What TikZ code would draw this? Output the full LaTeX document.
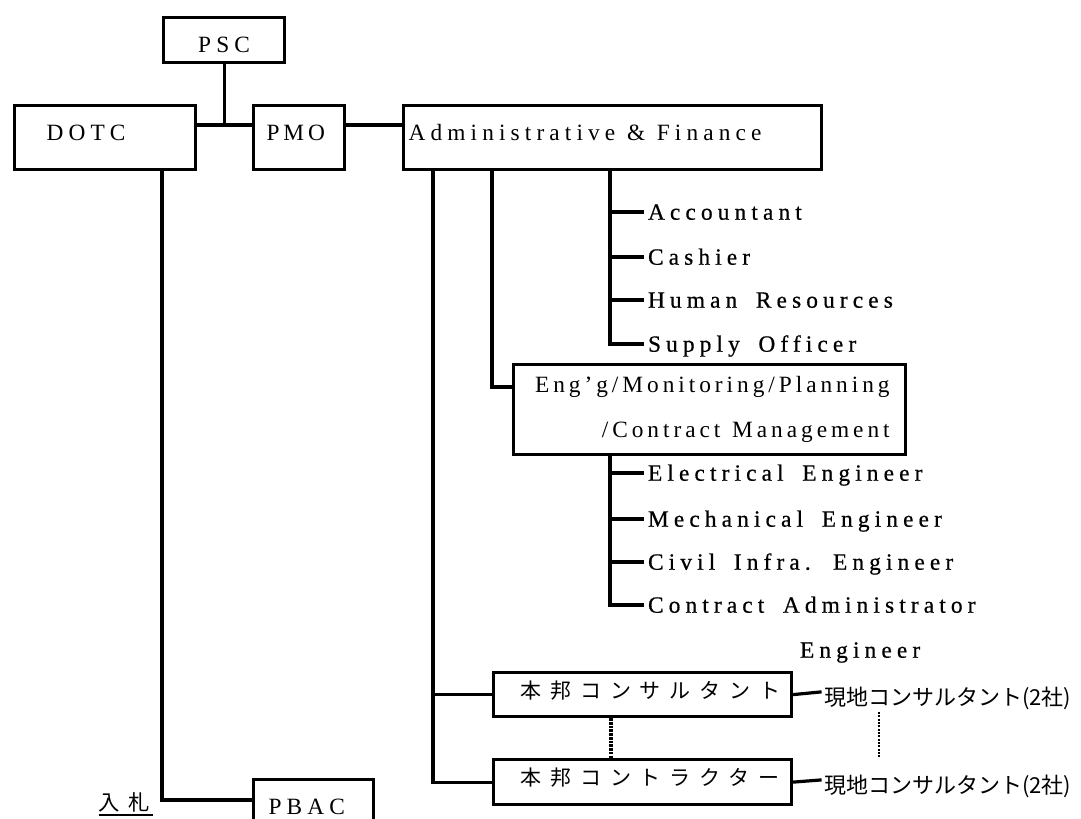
\documentclass[tikz,border=0pt]{standalone}
\usepackage{fontspec}
\setmainfont{Liberation Serif}
\newfontfamily\spc[LetterSpace=22, WordSpace=1.7]{Liberation Serif}
\newfontfamily\lblf[LetterSpace=22, WordSpace=1.7, FakeBold=0.6]{Liberation Serif}
\newfontfamily\engf[LetterSpace=17]{Liberation Serif}
\newfontfamily\jpspc[LetterSpace=42]{Noto Sans CJK JP}
\newfontfamily\jp{Noto Sans CJK JP}
\newcommand\bidul[1]{\setbox0\hbox{#1}\rlap{\rule[-4.2pt]{\dimexpr\wd0+2pt\relax}{1.6pt}}\box0}
\tikzset{
  conn/.style={draw=black, line width=2.4pt, line cap=rect},
  box/.style={draw=black, line width=2.4pt, anchor=north west, inner ysep=0pt, align=left,
    font=\spc\fontsize{17.5}{20}\selectfont, text height=12.25pt, text depth=8.05pt,
    execute at begin node={\spaceskip=0.5em\relax}},
  jbox/.style={box, font=\jpspc\fontsize{15.75}{18}\selectfont, text height=12.5pt, text depth=6.8pt},
  lbl/.style={anchor=west, font=\lblf\fontsize{17.5}{20}\selectfont, text height=15.75pt, text depth=4.2pt},
  jlbl/.style={anchor=west, inner xsep=2pt, font=\jp\fontsize{16.5}{20}\selectfont, text height=21.45pt, text depth=1.3pt},
  dots/.style={draw=black, line width=2.6pt, dash pattern=on 2pt off 0.8pt},
  thindots/.style={draw=black, line width=1.2pt, dash pattern=on 1.5pt off 1pt},
}

\begin{document}
\begin{tikzpicture}[x=0.75pt,y=-0.75pt,line width=2.4pt]
  \useasboundingbox (0,0) rectangle (1081,818);
  \clip (0,0) rectangle (1081,818);

  \coordinate (jn) at (222,125);
  \coordinate (bend) at (162,800);
  \coordinate (hqX) at (433,0);
  \coordinate (engX) at (492,0);
  \coordinate (finX) at (610,0);
  \coordinate (engIn) at (512,387);
  \coordinate (dotX) at (611,0);
  \coordinate (locA) at (879,712);
  \coordinate (locB) at (879,758);

  % top row
  \node[box, minimum width=90.75pt, minimum height=33.75pt, align=center,
    text height=19.25pt, text depth=1pt] (psc) at (162,16) {PSC};
  \node[box, text width=87.75pt, inner xsep=24pt, minimum height=48pt] (dotc) at (13,104) {DOTC};
  \node[box, text width=48.75pt, inner xsep=9.75pt, minimum height=48pt] (pmo) at (252,104) {P\,M\,O};
  \node[box, text width=306pt, inner xsep=3.75pt, minimum height=48pt] (admin) at (402,104) {Administrative \& Finance};
  \node[box, text width=67.5pt, inner xsep=11.25pt, minimum height=45pt,
    text height=11.5pt, text depth=4.2pt] (pbac) at (252,778) {PBAC};

  \draw[conn] (psc.south) -- (psc.south |- jn);
  \draw[conn] (dotc.east |- jn) -- (pmo.west |- jn);
  \draw[conn] (pmo.east |- jn) -- (admin.west |- jn);
  \draw[conn] (dotc.south -| bend) -- (bend) -- (pbac.west |- bend);
  \node[anchor=west, inner sep=0pt, font=\jpspc\fontsize{16}{18}\selectfont] (bid) at (97,804) {\bidul{入札}};

  % finance staff
  \foreach \n/\y/\t in {acct/212/Accountant, cash/257/Cashier, hr/300/Human Resources, supply/344/Supply Officer}{
    \node[lbl] (\n) at (642,\y) {\t};
  }
  \draw[conn] (admin.south -| finX) -- (finX |- supply) -- (supply.west);
  \foreach \n in {acct,cash,hr}{
    \draw[conn] (finX |- \n) -- (\n.west);
  }

  % engineering
  \node[box, text width=270pt, inner xsep=12pt, minimum height=67.5pt, align=right,
    font=\engf\fontsize{17.5}{33.75}\selectfont, text height={}, text depth={}] (eng) at (512,363)
    {Eng’g/Monitoring/Planning\\/Contract Management};
  \draw[conn] (admin.south -| engX) -- (engX |- engIn) -- (engIn);
  \foreach \n/\y/\t in {elec/473/Electrical Engineer, mech/519/Mechanical Engineer, civil/562/Civil Infra. Engineer, cadm/605/Contract Administrator}{
    \node[lbl] (\n) at (642,\y) {\t};
  }
  \node[lbl] (cadmb) at (794,650) {Engineer};
  \draw[conn] (eng.south -| finX) -- (finX |- cadm) -- (cadm.west);
  \foreach \n in {elec,mech,civil}{
    \draw[conn] (finX |- \n) -- (\n.west);
  }

  % consultants and contractor
  \node[jbox, text width=183pt, inner xsep=20.25pt, minimum height=33pt] (hq1) at (492,671) {本邦コンサルタント};
  \node[jbox, text width=183pt, inner xsep=20.25pt, minimum height=33.75pt] (hq2) at (492,758) {本邦コントラクター};
  \node[jlbl] (loc1) at (820,692) {現地コンサルタント(2社)};
  \node[jlbl] (loc2) at (820,780) {現地コンサルタント(2社)};
  \draw[conn] (admin.south -| hqX) -- (hqX |- hq2) -- (hq2.west);
  \draw[conn] (hqX |- hq1) -- (hq1.west);
  \draw[conn] (hq1.east) -- (loc1.west);
  \draw[conn] (hq2.east) -- (loc2.west);
  \draw[dots] (hq1.south -| dotX) -- (hq2.north -| dotX);
  \draw[thindots] (locA) -- (locB);
\end{tikzpicture}
\end{document}
